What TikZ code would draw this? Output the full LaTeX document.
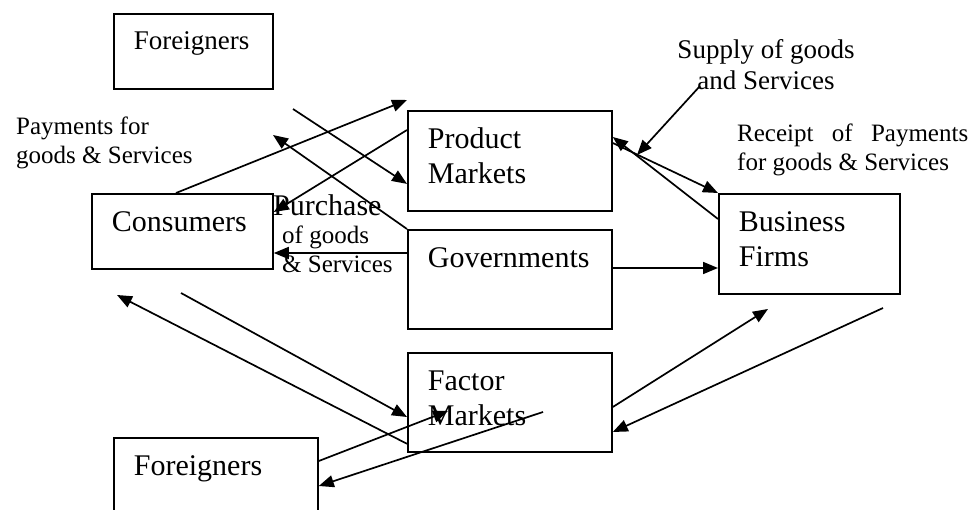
\documentclass[tikz,border=0pt]{standalone}
\usepackage{fontspec}
\setmainfont{Liberation Serif}
\usetikzlibrary{shapes,positioning,arrows.meta}

\begin{document}
\begin{tikzpicture}[x=1pt,y=-1pt,
  sector/.style={draw,line width=1.8pt,anchor=north west,align=left,inner xsep=20pt,inner ysep=0pt,text height=38pt,font=\fontsize{30}{35}\selectfont},
  flow/.style={-{Triangle[length=15pt,width=12pt]},line width=1.7pt},
  bigtxt/.style={font=\fontsize{30}{35}\selectfont,inner sep=0pt},
  midtxt/.style={font=\fontsize{27}{31}\selectfont,inner sep=0pt},
  smalltxt/.style={font=\fontsize{25}{29}\selectfont,inner sep=0pt}]
  \useasboundingbox (0,0) rectangle (975,510);
  \clip (0,0) rectangle (975,510);

  \node[sector,text width=119pt,text height=36pt,text depth=39pt,font=\fontsize{27}{31}\selectfont] (forTop) at (113,13) {Foreigners};
  \node[sector,text width=164pt,text depth=62pt] (prod)  at (407,110) {Product\\Markets};
  \node[sector,text width=164pt,text depth=61pt] (gov)   at (407,229) {Governments};
  \node[sector,text width=164pt,text depth=61pt] (fact)  at (407,352) {Factor\\Markets};
  \node[sector,text width=141pt,text depth=37pt] (cons)  at (91,193)  {Consumers};
  \node[sector,text width=141pt,text depth=62pt] (firms) at (718,193) {Business\\Firms};
  \node[sector,text width=164pt,text depth=62pt] (forBot) at (113,437) {Foreigners};

  % labels, placed by the baseline of their last line
  \node[smalltxt,align=left,anchor=base west] (payLbl) at (16,164) {Payments for\\goods \& Services};
  \node[midtxt,align=center,anchor=base] (supLbl) at (766,90) {Supply of goods\\and Services};
  \node[smalltxt,align=left,anchor=base west] (recLbl) at (737,171) {\hbox to 231pt{Receipt\hfill of\hfill Payments}\\for goods \& Services};
  \node[bigtxt,anchor=base west] (purLbl) at (273,216) {Purchase};
  \node[smalltxt,align=left,anchor=base west] (purLbl2) at (282,273) {of goods\\\& Services};

  % product market side
  \draw[flow] ([xshift=85pt]cons.north west) -- ([yshift=10pt]prod.north west);
  \coordinate (fgnOut) at (293,109);
  \draw[flow] (fgnOut) -- ([yshift=-23pt]prod.west);
  \draw[flow] ([yshift=-20pt]prod.north west) -- ([yshift=-19pt]cons.north east);
  \coordinate (govOut) at (273,135);
  \draw[flow] (gov.north west) -- (govOut);
  \draw[flow] ([yshift=-24pt]gov.north west) coordinate (g1) -- (g1 -| cons.east);
  \draw[flow] ([yshift=-39pt]gov.north east) coordinate (g2) -- (g2 -| firms.west);

  % business firms side
  \draw[flow] ([yshift=-26pt]firms.north west) -- ([yshift=-27pt]prod.north east);
  \draw[flow] ([yshift=-33pt]prod.north east) -- (firms.north west);
  \coordinate (supFrom) at (700,86);
  \coordinate (supTo) at (637,155);
  \draw[flow] (supFrom) -- (supTo);

  % factor market side
  \coordinate (consOut) at (181,293);
  \coordinate (consIn) at (117,295);
  \draw[flow] (consOut) -- ([yshift=-65pt]fact.north west);
  \draw[flow] ([yshift=9pt]fact.south west) -- (consIn);
  \coordinate (factIn) at (448,411);
  \coordinate (factOut) at (543,412);
  \draw[flow] ([yshift=-24pt]forBot.north east) -- (factIn);
  \draw[flow] (factOut) -- ([yshift=-49pt]forBot.north east);
  \coordinate (firmsIn) at (768,309);
  \coordinate (firmsOut) at (883,308);
  \draw[flow] ([yshift=-55pt]fact.north east) -- (firmsIn);
  \draw[flow] (firmsOut) -- ([yshift=-80pt]fact.north east);
\end{tikzpicture}
\end{document}
